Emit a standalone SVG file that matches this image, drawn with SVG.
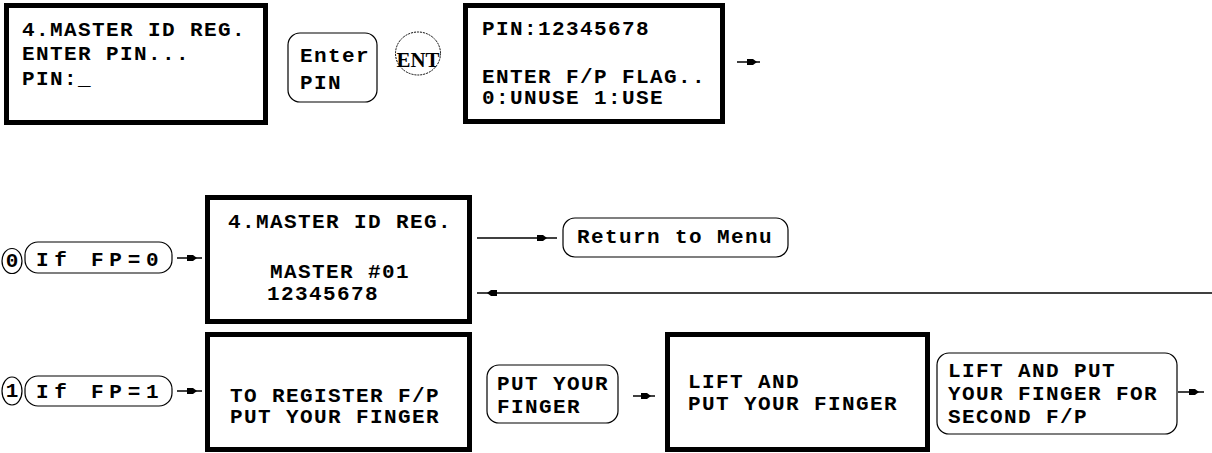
<svg xmlns="http://www.w3.org/2000/svg" xmlns:xlink="http://www.w3.org/1999/xlink" width="1212" height="453" viewBox="0 0 1212 453">
<style>
.scr{fill:#fff;stroke:#000;stroke-width:5}
.key{fill:#fff;stroke:#000;stroke-width:1.2}
.t{font-family:"Liberation Mono","Courier New",monospace;font-weight:bold;font-size:21px;letter-spacing:1.4px;fill:#000}
.e{font-family:"Liberation Serif","Times New Roman",serif;font-weight:bold;font-size:20px;fill:#000}
.c{fill:none;stroke:#000;stroke-width:1.5}
</style>
<defs>
<path id="ah" d="M-10,-3 L-4,-3 L0,0 L-4,3 L-10,3 Z" fill="#000"/>
</defs>
<g id="connectors" class="c">
<line x1="737" y1="62" x2="760" y2="62"/>
<use xlink:href="#ah" x="757" y="62" stroke="none"/>
<line x1="177" y1="258" x2="202" y2="258"/>
<use xlink:href="#ah" x="197" y="258" stroke="none"/>
<line x1="477" y1="238" x2="557" y2="238"/>
<use xlink:href="#ah" x="547" y="238" stroke="none"/>
<line x1="1212" y1="293" x2="477" y2="293"/>
<use xlink:href="#ah" transform="translate(487,293) rotate(180)" stroke="none"/>
<line x1="177" y1="391" x2="202" y2="391"/>
<use xlink:href="#ah" x="197" y="391" stroke="none"/>
<line x1="633" y1="396" x2="655" y2="396"/>
<use xlink:href="#ah" x="651" y="396" stroke="none"/>
<line x1="1178" y1="392" x2="1204" y2="392"/>
<use xlink:href="#ah" x="1199" y="392" stroke="none"/>
</g>
<g id="screen1">
<rect class="scr" x="6.5" y="5.5" width="259" height="117"/>
<text class="t" x="22" y="36">4.MASTER ID REG.</text>
<text class="t" x="22" y="60">ENTER PIN...</text>
<text class="t" x="22" y="85">PIN:_</text>
</g>
<g id="key-enter-pin">
<rect class="key" x="288" y="33" width="89" height="69" rx="12"/>
<text class="t" x="300" y="62">Enter</text>
<text class="t" x="300" y="89">PIN</text>
</g>
<g id="key-ent">
<ellipse cx="418" cy="53.5" rx="22.5" ry="21.5" fill="#fff" stroke="#000" stroke-width="1" stroke-dasharray="2,1"/>
<text class="e" x="418" y="67" text-anchor="middle" textLength="43" lengthAdjust="spacingAndGlyphs">ENT</text>
</g>
<g id="screen2">
<rect class="scr" x="465.5" y="5.5" width="257" height="116"/>
<text class="t" x="482" y="35">PIN:12345678</text>
<text class="t" x="482" y="83">ENTER F/P FLAG..</text>
<text class="t" x="482" y="104">0:UNUSE 1:USE</text>
</g>
<g id="opt0">
<ellipse class="key" cx="12" cy="261" rx="10" ry="12.5"/>
<text class="t" x="12.7" y="267" text-anchor="middle">0</text>
</g>
<g id="if-fp0">
<rect class="key" x="25" y="242" width="147" height="31" rx="13"/>
<text class="t" x="36" y="266" textLength="124" lengthAdjust="spacing">If FP=0</text>
</g>
<g id="screen3">
<rect class="scr" x="207.5" y="197.5" width="262" height="124"/>
<text class="t" x="228" y="228">4.MASTER ID REG.</text>
<text class="t" x="270" y="278">MASTER #01</text>
<text class="t" x="267" y="300">12345678</text>
</g>
<g id="return-menu">
<rect class="key" x="563" y="218" width="225" height="39" rx="12"/>
<text class="t" x="577" y="243">Return to Menu</text>
</g>
<g id="opt1">
<ellipse class="key" cx="12" cy="391" rx="10" ry="14"/>
<text class="t" x="12.7" y="397" text-anchor="middle">1</text>
</g>
<g id="if-fp1">
<rect class="key" x="25" y="376" width="147" height="30" rx="13"/>
<text class="t" x="36" y="398" textLength="124" lengthAdjust="spacing">If FP=1</text>
</g>
<g id="screen4">
<rect class="scr" x="207.5" y="334.5" width="262" height="115"/>
<text class="t" x="230" y="402">TO REGISTER F/P</text>
<text class="t" x="230" y="423">PUT YOUR FINGER</text>
</g>
<g id="key-put-finger">
<rect class="key" x="487" y="365" width="131" height="58" rx="12"/>
<text class="t" x="497" y="390">PUT YOUR</text>
<text class="t" x="497" y="413">FINGER</text>
</g>
<g id="screen5">
<rect class="scr" x="667.5" y="334.5" width="260" height="115"/>
<text class="t" x="688" y="388">LIFT AND</text>
<text class="t" x="688" y="410">PUT YOUR FINGER</text>
</g>
<g id="key-lift-put">
<rect class="key" x="937" y="353" width="240" height="81" rx="12"/>
<text class="t" x="948" y="377">LIFT AND PUT</text>
<text class="t" x="948" y="400">YOUR FINGER FOR</text>
<text class="t" x="948" y="423">SECOND F/P</text>
</g>
</svg>
